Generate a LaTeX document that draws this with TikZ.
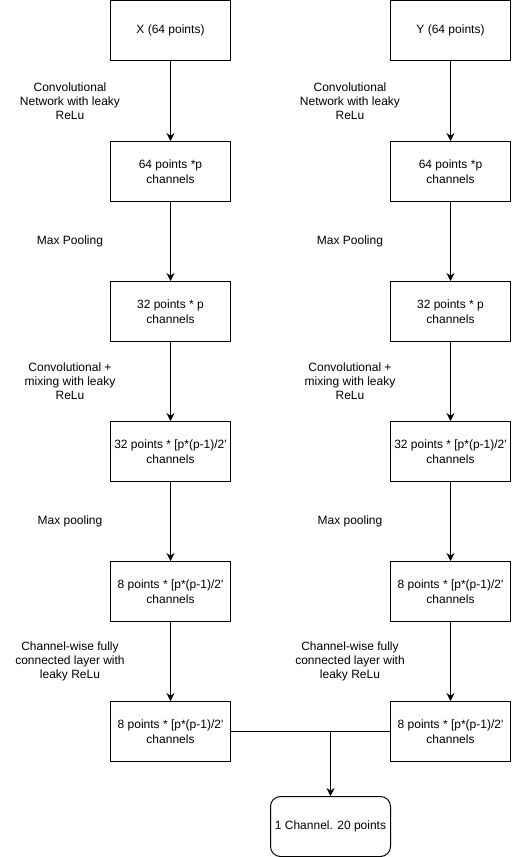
\documentclass[tikz,border=0pt]{standalone}
\usepackage{fontspec}
\setmainfont{Liberation Sans}
\usetikzlibrary{arrows.meta}
\begin{document}
\begin{tikzpicture}[x=0.75pt,y=-0.75pt,
  box/.style={draw,line width=0.75pt,minimum width=90pt,minimum height=45pt,align=center,inner sep=1pt,font=\fontsize{9}{11}\selectfont},
  rbox/.style={box,rounded corners=7.5pt},
  lab/.style={align=center,font=\fontsize{9}{10.5}\selectfont,inner sep=0pt},
  arr/.style={line width=0.75pt,-{Stealth[length=6pt,width=6pt,inset=2pt]}},
  ln/.style={line width=0.75pt}]
\useasboundingbox (0,0) rectangle (511,857);
\foreach \s/\xx/\lx/\t in {L/170.5/70/X,R/450.5/350/Y}{
  \node[box] (\s1) at (\xx,30.5) {\t\ (64 points)};
  \node[box] (\s2) at (\xx,171.5) {64 points *p\\channels};
  \node[box] (\s3) at (\xx,311.5) {32 points * p\\channels};
  \node[box] (\s4) at (\xx,451.5) {32 points * [p*(p-1)/2\textquotesingle\\channels};
  \node[box] (\s5) at (\xx,591.5) {8 points * [p*(p-1)/2\textquotesingle\\channels};
  \node[box] (\s6) at (\xx,731.5) {8 points * [p*(p-1)/2\textquotesingle\\channels};
  \node[lab] at (\lx,101) {Convolutional\\Network with leaky\\ReLu};
  \node[lab] at (\lx,241) {Max Pooling};
  \node[lab] at (\lx,381) {Convolutional +\\mixing with leaky\\ReLu};
  \node[lab] at (\lx,521) {Max pooling};
  \node[lab] at (\lx,661) {Channel-wise fully\\connected layer with\\leaky ReLu};
  \draw[arr] (\s1) -- (\s2);
  \draw[arr] (\s2) -- (\s3);
  \draw[arr] (\s3) -- (\s4);
  \draw[arr] (\s4) -- (\s5);
  \draw[arr] (\s5) -- (\s6);
}
\node[rbox] (out) at (330.5,826.5) {1 Channel. 20 points};
\coordinate (j) at (330.5,730.5);
\draw[ln] (L6.east) -- (R6.west);
\draw[arr] (j) -- (out);
\end{tikzpicture}
\end{document}
